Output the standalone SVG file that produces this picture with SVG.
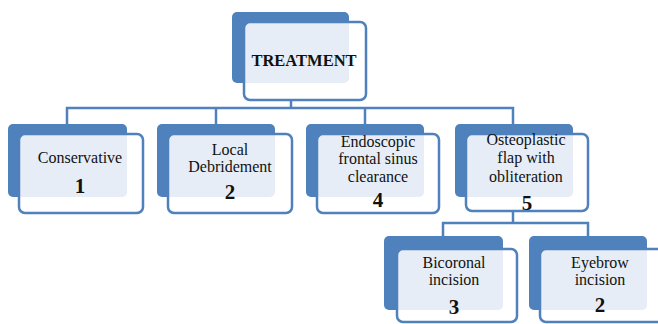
<svg xmlns="http://www.w3.org/2000/svg" width="658" height="324" viewBox="0 0 658 324">
<style>
.back{fill:#4f81bd;}
.front{fill:#ffffff;fill-opacity:0.86;stroke:#4f81bd;stroke-width:2.5;}
.conn{fill:none;stroke:#4f81bd;stroke-width:2.5;}
.t{font-family:"Liberation Serif","Times New Roman",serif;font-size:16px;fill:#111;text-anchor:middle;}
.n{font-family:"Liberation Serif","Times New Roman",serif;font-size:21px;font-weight:bold;fill:#111;text-anchor:middle;}
.h{font-family:"Liberation Serif","Times New Roman",serif;font-size:16.5px;font-weight:bold;fill:#111;text-anchor:middle;}
</style>
<rect width="658" height="324" fill="#ffffff"/>
<g id="connectors">
<path class="conn" d="M291,100 V108"/>
<path class="conn" d="M67,124 V108 H513 V124"/>
<path class="conn" d="M216,108 V124"/>
<path class="conn" d="M365,108 V124"/>
<path class="conn" d="M513,211 V223"/>
<path class="conn" d="M443,236 V223 H588 V236"/>
</g>
<g id="treatment">
<rect class="back" x="232" y="12" width="117" height="71" rx="5"/>
<rect class="front" x="244" y="22" width="122" height="78" rx="6"/>
<text class="h" x="304" y="66">TREATMENT</text>
</g>
<g id="conservative">
<rect class="back" x="8" y="124" width="119" height="73" rx="5"/>
<rect class="front" x="19" y="134" width="124" height="79" rx="6"/>
<text class="t" x="80" y="163">Conservative</text>
<text class="n" x="80" y="193">1</text>
</g>
<g id="local-debridement">
<rect class="back" x="157" y="124" width="118" height="73" rx="5"/>
<rect class="front" x="168" y="134" width="124" height="79" rx="6"/>
<text class="t" x="230" y="155">Local</text>
<text class="t" x="230" y="172">Debridement</text>
<text class="n" x="230" y="199">2</text>
</g>
<g id="endoscopic">
<rect class="back" x="306" y="124" width="118" height="73" rx="5"/>
<rect class="front" x="317" y="134" width="122" height="79" rx="6"/>
<text class="t" x="378" y="147">Endoscopic</text>
<text class="t" x="378" y="164">frontal sinus</text>
<text class="t" x="378" y="182">clearance</text>
<text class="n" x="378" y="207">4</text>
</g>
<g id="osteoplastic">
<rect class="back" x="455" y="124" width="118" height="73" rx="5"/>
<rect class="front" x="466" y="134" width="122" height="77" rx="6"/>
<text class="t" x="526" y="145">Osteoplastic</text>
<text class="t" x="526" y="163">flap with</text>
<text class="t" x="526" y="182">obliteration</text>
<text class="n" x="527" y="210">5</text>
</g>
<g id="bicoronal">
<rect class="back" x="384" y="236" width="119" height="74" rx="5"/>
<rect class="front" x="397" y="249" width="120" height="73" rx="6"/>
<text class="t" x="454" y="268">Bicoronal</text>
<text class="t" x="454" y="285">incision</text>
<text class="n" x="454" y="314">3</text>
</g>
<g id="eyebrow">
<rect class="back" x="529" y="236" width="118" height="74" rx="5"/>
<rect class="front" x="540" y="249" width="124" height="73" rx="6"/>
<text class="t" x="600" y="268">Eyebrow</text>
<text class="t" x="600" y="285">incision</text>
<text class="n" x="600" y="312">2</text>
</g>
</svg>
